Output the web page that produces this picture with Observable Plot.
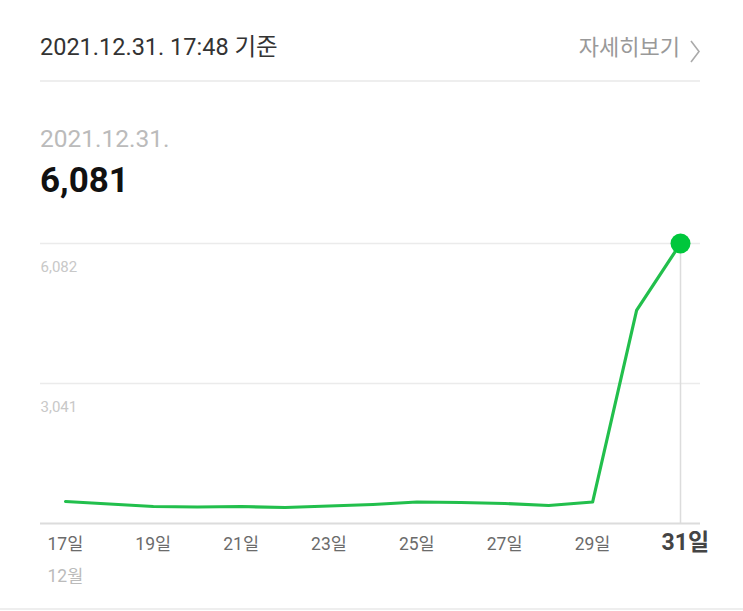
<!DOCTYPE html>
<html><head><meta charset="utf-8">
<script src="https://cdn.jsdelivr.net/npm/d3@7"></script>
<script src="https://cdn.jsdelivr.net/npm/@observablehq/plot@0.6"></script>
<style>
html,body{margin:0;padding:0;background:#fff;}
#wrap{position:relative;width:743px;height:611px;overflow:hidden;font-family:Roboto,"Noto Sans CJK KR",sans-serif;}
.abs{position:absolute;line-height:1;white-space:nowrap;}
#chart{position:absolute;left:0;top:200px;}
</style></head>
<body>
<div id="wrap">
  <div class="abs" style="left:40px;top:36px;font-size:23.5px;color:#333;">2021.12.31. 17:48 기준</div>
  <div class="abs" style="right:63px;top:37px;font-size:22px;color:#999;">자세히보기</div>
  <svg class="abs" style="left:690px;top:40px;" width="12" height="24"><polyline points="1,1 9,11.5 1,22" fill="none" stroke="#aaa" stroke-width="1.6"/></svg>
  <div class="abs" style="left:40px;top:80px;width:660px;height:0;border-top:2px solid #eee;"></div>
  <div class="abs" style="left:40px;top:127px;font-size:24.5px;color:#bbb;">2021.12.31.</div>
  <div class="abs" style="left:40px;top:163px;font-size:35px;font-weight:bold;color:#111;">6,081</div>
  <div id="chart"></div>
  <div class="abs" style="left:0;top:608px;width:743px;height:0;border-top:2px solid #eee;"></div>
</div>
<script>
const days = [17,18,19,20,21,22,23,24,25,26,27,28,29,30,31];
const values = [478,424,369,358,369,348,380,413,467,456,434,391,467,4627,6081];
const yTicks = [3041, 6082];
const xTicks = [17,19,21,23,25,27,29];
const lastDay = 31;
const monthLabels = [{day:17, label:"12월"}];

const data = days.map((d,i)=>({day:d, value:values[i]}));
const last = data[data.length-1];
const fmt = d3.format(",");

const chart = Plot.plot({
  width: 743, height: 405,
  marginTop: 43, marginBottom: 82, marginLeft: 40, marginRight: 43,
  style: {fontFamily: 'Roboto, "Noto Sans CJK KR", sans-serif', background: "transparent"},
  x: {domain: [17, 31], range: [65, 680], axis: null},
  y: {domain: [0, 6082], axis: null},
  marks: [
    Plot.ruleY(yTicks, {stroke: "#ebebeb", strokeWidth: 1.5}),
    Plot.ruleY([0], {stroke: "#dcdcdc", strokeWidth: 2}),
    Plot.ruleX([last], {x: "day", y1: 0, y2: "value", stroke: "#dcdcdc", strokeWidth: 1.5}),
    Plot.text(yTicks, {y: d=>d, frameAnchor: "left", textAnchor: "start", dy: 24, text: d=>fmt(d), fill: "#c8c8c8", fontSize: 15}),
    Plot.line(data, {x: "day", y: "value", stroke: "#22bf4c", strokeWidth: 3.2, strokeLinejoin: "round"}),
    Plot.dot([last], {x: "day", y: "value", r: 10, fill: "#00c73c", stroke: "none"}),
    Plot.text(xTicks, {x: d=>d, frameAnchor: "bottom", dy: 26, dx: -18, textAnchor: "start", text: d=>`${d}일`, fill: "#6b6b6b", fontSize: 17.5}),
    Plot.text([lastDay], {x: d=>d, frameAnchor: "bottom", dy: 26, dx: -19, textAnchor: "start", text: d=>`${d}일`, fill: "#444", fontSize: 23, fontWeight: "bold"}),
    Plot.text(monthLabels, {x: "day", frameAnchor: "bottom", dy: 58, dx: -18, textAnchor: "start", text: "label", fill: "#bbb", fontSize: 17.5})
  ]
});
document.getElementById("chart").appendChild(chart);
</script>
</body></html>
